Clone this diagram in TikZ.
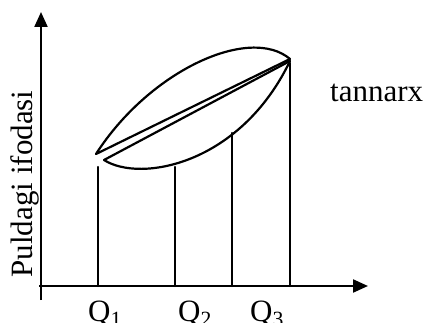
\documentclass[tikz,border=0pt]{standalone}
\usepackage{fontspec}
\usepackage{tikz}
\usetikzlibrary{arrows.meta}
\setmainfont{Liberation Serif}

\begin{document}
\begin{tikzpicture}[x=1pt,y=-1pt,
  curve/.style={line width=2.2pt,line cap=round,line join=round},
  axis/.style={line width=2.2pt,-{Triangle[length=15pt,width=13pt]}},
  lbl/.style={inner sep=0pt,font=\fontsize{31}{36}\selectfont}]
  \useasboundingbox (0,0) rectangle (425,323);

  \coordinate (orig) at (41,286);
  \coordinate (xend) at (368,286);
  \coordinate (yend) at (41,12);
  \coordinate (A) at (96,154);
  \coordinate (B) at (290,59);
  \coordinate (C) at (104,160);
  \coordinate (D) at (290,61);

  \draw[axis] (41,300) -- (yend);
  \draw[axis] (39,286) -- (xend);

  \node[lbl,rotate=90] (price) at (25,184) {Puldagi ifodasi};
  \node[lbl,anchor=base west] (cost) at (330,102) {tannarx};
  \node[lbl,anchor=base west] (q1) at (88,321) {Q\textsubscript{1}};
  \node[lbl,anchor=base west] (q2) at (178,321) {Q\textsubscript{2}};
  \node[lbl,anchor=base west] (q3) at (250,321) {Q\textsubscript{3}};

  \coordinate (t1) at (98,167);
  \coordinate (t2) at (175,167);
  \coordinate (t3) at (232,133);
  \coordinate (t4) at (290,63);
  \draw[curve] (t1) -- (t1 |- orig);
  \draw[curve] (t2) -- (t2 |- orig);
  \draw[curve] (t3) -- (t3 |- orig);
  \draw[curve] (t4) -- (t4 |- orig);

  \draw[curve] (A) .. controls (150,70) and (250,25) .. (B);
  \draw[curve] (C) .. controls (140,183) and (240,165) .. (D);
  \draw[curve] (A) -- (B);
  \draw[curve] (C) -- (D);
\end{tikzpicture}
\end{document}
